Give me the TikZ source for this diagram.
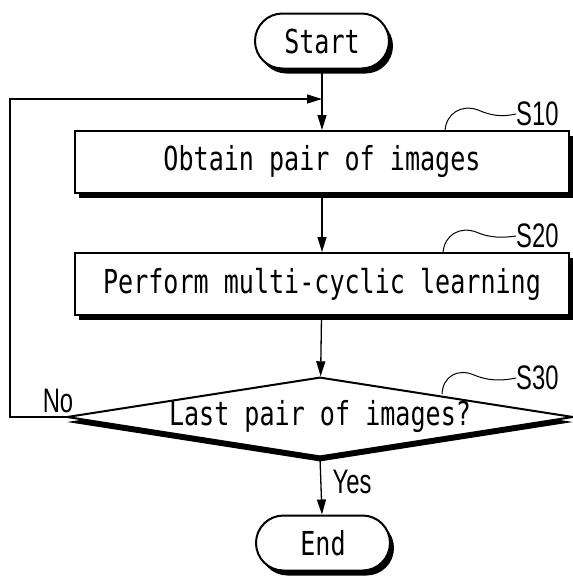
\documentclass[tikz,border=0pt]{standalone}
\usepackage{fontspec}
\usetikzlibrary{shapes.geometric,shapes.misc,shadows,arrows.meta}
\newfontfamily\flowfont[FakeStretch=0.76]{DejaVu Sans Mono}
\newfontfamily\tagfont[FakeStretch=0.70]{Liberation Sans}

\begin{document}
\begin{tikzpicture}[x=1pt,y=-1pt,
  flowtext/.style={font=\flowfont\fontsize{33}{36}\selectfont},
  boxshade/.style={drop shadow={opacity=1,fill=black,shadow xshift=4pt,shadow yshift=-5pt}},
  terminal/.style={flowtext, draw, line width=2pt, fill=white, rounded rectangle,
    minimum width=134pt, minimum height=55pt, inner sep=0pt, boxshade},
  process/.style={flowtext, draw, line width=2pt, fill=white,
    minimum width=494pt, minimum height=62pt, inner sep=0pt, boxshade},
  decision/.style={flowtext, draw, line width=2pt, fill=white, diamond, aspect=6.36,
    minimum width=496pt, minimum height=78pt, inner sep=0pt,
    drop shadow={opacity=1,fill=black,shadow xshift=0pt,shadow yshift=-5pt}},
  flow/.style={line width=1.3pt, -{Triangle[length=15pt,width=9pt]}},
  tag/.style={font=\tagfont\fontsize{34}{38}\selectfont, inner sep=0pt},
  lead/.style={line width=1pt},
]
\useasboundingbox (0,0) rectangle (573,579);

% flow chart steps
\node[terminal] (start) at (322,41)  {Start};
\node[process]  (s10)   at (322,162) {Obtain pair of images};
\node[process]  (s20)   at (322,284) {Perform multi-cyclic learning};
\node[decision] (s30)   at (320,417) {Last pair of images?};
\node[terminal] (stop)  at (323,543) {End};

% main flow
\draw[flow] (start) -- (s10);
\draw[flow] (s10) -- (s20);
\draw[flow] (s20) -- (s30);
\draw[flow] (s30.south) -- (stop);

% loop back on "No"
\coordinate (loopin) at (322,99);
\coordinate (loopcorner) at (10,99);
\draw[flow] (s30.west) -| (loopcorner) -- (loopin);

% branch labels
\node[tag] (no)  at (58,401)  {No};
\node[tag] (yes) at (352,482) {Yes};

% step reference labels with leader lines
\node[tag, anchor=west] (l10) at (516,114) {S10};
\node[tag, anchor=west] (l20) at (516,236) {S20};
\node[tag, anchor=west] (l30) at (516,378) {S30};

\coordinate (p10) at (445,131);
\coordinate (p20) at (443,253);
\coordinate (p30) at (442,394);
\draw[lead] (p10) .. controls (446,113) and (462,104) .. (478,110)
               .. controls (492,116) and (502,117) .. (l10.west);
\draw[lead] (p20) .. controls (444,235) and (460,226) .. (476,232)
               .. controls (490,238) and (502,238) .. (l20.west);
\draw[lead] (p30) .. controls (443,376) and (458,368) .. (474,375)
               .. controls (488,381) and (502,381) .. (l30.west);
\end{tikzpicture}
\end{document}
